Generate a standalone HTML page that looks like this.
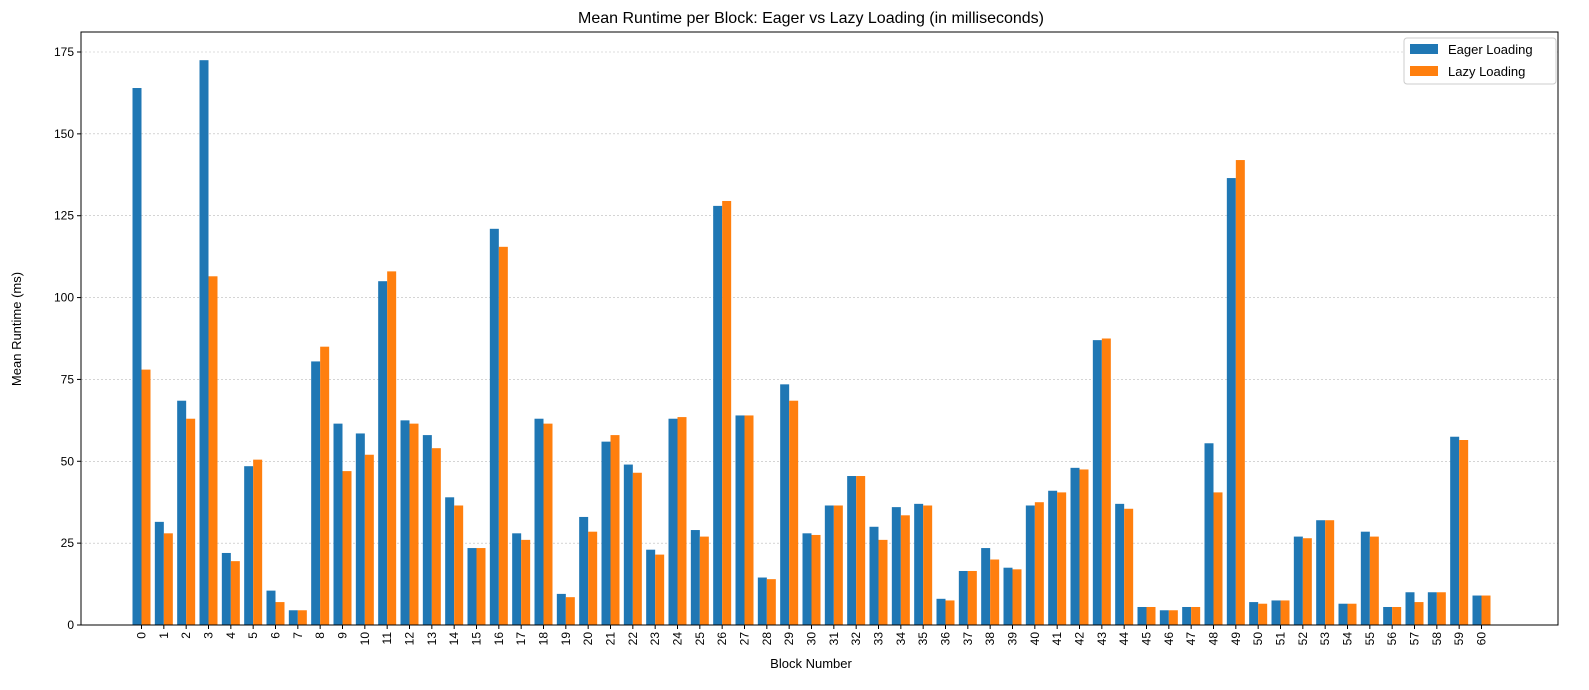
<!DOCTYPE html>
<html><head><meta charset="utf-8"><style>
body{margin:0;background:#fff;}
svg{display:block;font-family:"Liberation Sans","DejaVu Sans",sans-serif;}
</style></head><body>
<svg id="chart" width="1589" height="690">
<text x="811" y="23" text-anchor="middle" font-size="16">Mean Runtime per Block: Eager vs Lazy Loading (in milliseconds)</text>
<text x="811" y="668" text-anchor="middle" font-size="13">Block Number</text>
<text transform="translate(21,329) rotate(-90)" text-anchor="middle" font-size="13">Mean Runtime (ms)</text>
<g id="grid"></g><g id="bars"></g><g id="axes"></g>
<g>
<rect x="1404" y="38" width="152" height="46" fill="#fff" stroke="#ccc" rx="3"/>
<rect x="1410" y="44" width="28" height="10" fill="#1f77b4"/>
<text x="1448" y="54" font-size="13">Eager Loading</text>
<rect x="1410" y="66" width="28" height="10" fill="#ff7f0e"/>
<text x="1448" y="76" font-size="13">Lazy Loading</text>
</g>
</svg>
<script>
const eager=[164,31.5,68.5,172.5,22,48.5,10.5,4.5,80.5,61.5,58.5,105,62.5,58,39,23.5,121,28,63,9.5,33,56,49,23,63,29,128,64,14.5,73.5,28,36.5,45.5,30,36,37,8,16.5,23.5,17.5,36.5,41,48,87,37,5.5,4.5,5.5,55.5,136.5,7,7.5,27,32,6.5,28.5,5.5,10,10,57.5,9];
const lazy=[78,28,63,106.5,19.5,50.5,7,4.5,85,47,52,108,61.5,54,36.5,23.5,115.5,26,61.5,8.5,28.5,58,46.5,21.5,63.5,27,129.5,64,14,68.5,27.5,36.5,45.5,26,33.5,36.5,7.5,16.5,20,17,37.5,40.5,47.5,87.5,35.5,5.5,4.5,5.5,40.5,142,6.5,7.5,26.5,32,6.5,27,5.5,7,10,56.5,9];
const yTicks=[0,25,50,75,100,125,150,175];
const NS="http://www.w3.org/2000/svg";
const L=81,R=1558,T=32,B=625;
const y=v=>B-v*(B-52)/175;
const step=(1481.5-141.5)/60;
const x=i=>141.5+i*step;
const bw=9;
function mk(tag,attrs,parent){const e=document.createElementNS(NS,tag);for(const k in attrs)e.setAttribute(k,attrs[k]);parent.appendChild(e);return e;}
const grid=document.getElementById('grid'),bars=document.getElementById('bars'),axes=document.getElementById('axes');
yTicks.forEach(t=>{
 const g=mk('line',{x1:L,x2:R,y1:y(t),y2:y(t),stroke:'#bbb','stroke-width':0.6,'stroke-dasharray':'2,2'},grid);
 
 
 mk('line',{x1:L-4,x2:L,y1:y(t),y2:y(t),stroke:'#000'},axes);
 const tx=mk('text',{x:L-7,y:y(t)+4,'text-anchor':'end','font-size':12},axes);
 tx.textContent=t;
 
 
});
eager.forEach((v,i)=>{
 const r=mk('rect',{x:x(i)-bw,y:y(v),width:bw,height:B-y(v),fill:'#1f77b4'},bars);
 
 
 const r2=mk('rect',{x:x(i),y:y(lazy[i]),width:bw,height:B-y(lazy[i]),fill:'#ff7f0e'},bars);
 
 
 mk('line',{x1:x(i),x2:x(i),y1:B,y2:B+4,stroke:'#000'},axes);
 const tx=mk('text',{transform:`translate(${x(i)+4},${B+7}) rotate(-90)`,'text-anchor':'end','font-size':12},axes);
 tx.textContent=i;
 
 
});
const fr=mk('rect',{x:L,y:T,width:R-L,height:B-T,fill:'none',stroke:'#000','stroke-width':1},axes);


</script>
</body></html>
